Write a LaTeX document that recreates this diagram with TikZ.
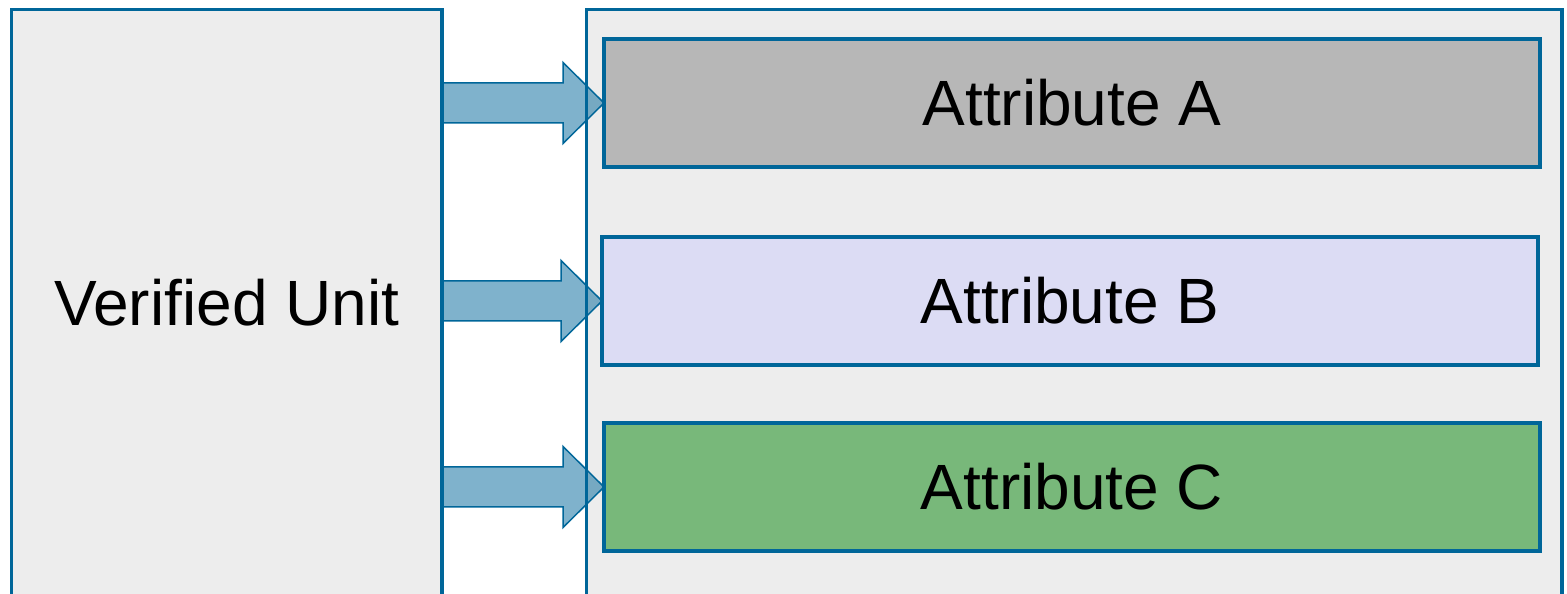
\documentclass[tikz,border=0pt]{standalone}
\usepackage{fontspec}
\setmainfont{Liberation Sans}
\usetikzlibrary{positioning,calc}
\definecolor{edgeB}{RGB}{0,102,153}
\definecolor{panel}{gray}{0.93}
\definecolor{attrA}{RGB}{183,183,183}
\definecolor{attrB}{RGB}{220,220,244}
\definecolor{attrC}{RGB}{120,184,122}

\begin{document}
\begin{tikzpicture}[
	x=1pt, y=1pt,
	node distance = 0pt,
	every node/.style={font=\fontsize{64}{76}\selectfont},
	BigBox/.style={draw=edgeB, line width=3.5pt, fill=panel, inner sep=0pt, outer sep=0pt},
	AttrBox/.style={draw=edgeB, line width=3.5pt, minimum width=936pt,
		minimum height=128pt, inner sep=0pt, outer sep=0pt},
	FatArrow/.style={draw=edgeB, line width=1.5pt, fill=edgeB, fill opacity=0.5,
		line join=miter},
	]
	\useasboundingbox (0,0) rectangle (1567,594);
	\node [BigBox, minimum width=430.5pt, minimum height=586.5pt] (unit) at (226.75,291.25) {Verified Unit};
	\node [BigBox, minimum width=975.5pt, minimum height=586.5pt] (attrs) at (1074.25,291.25) {};
	
	\node [AttrBox, fill=attrA] (a) at (1072,491) {Attribute A};
	\node [AttrBox, fill=attrB, below=70pt of a, xshift=-2pt] (b) {Attribute B};
	\node [AttrBox, fill=attrC, below=58pt of b, xshift=2pt] (c) {Attribute C};
	
	\foreach \n in {a,b,c}
	\draw [FatArrow] ($(\n.west -| unit.east)+(0,20)$) -- ($(\n.west)+(-41,20)$)
		-- ($(\n.west)+(-41,40.5)$) -- (\n.west) -- ($(\n.west)+(-41,-40.5)$)
		-- ($(\n.west)+(-41,-20)$) -- ($(\n.west -| unit.east)+(0,-20)$) -- cycle;
\end{tikzpicture}
\end{document}
